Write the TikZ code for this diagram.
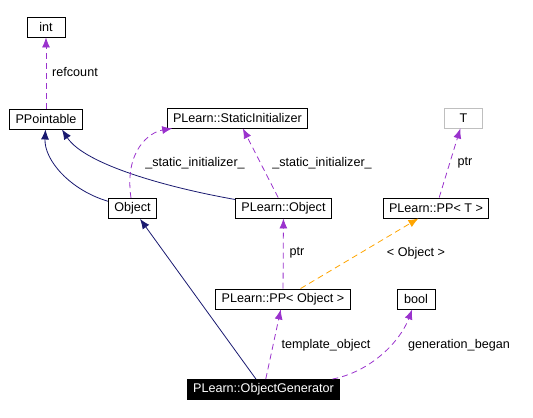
\documentclass[tikz,border=0pt]{standalone}
\usepackage{fontspec}
\setmainfont{Liberation Sans}
\usetikzlibrary{arrows.meta}

\definecolor{usecol}{HTML}{9A32CD}
\definecolor{basecol}{HTML}{191970}
\definecolor{tmplcol}{HTML}{FFA500}

\begin{document}
\begin{tikzpicture}[
        x=1bp, y=-1bp, % координаты в пикселях
        font=\fontsize{12.6bp}{15bp}\selectfont,
        cell/.style={draw, line width=0.9bp, minimum width=38bp, minimum height=20bp, inner xsep=6bp, inner ysep=0pt}, % Стиль узлов
        root/.style={cell, fill=black, text=white},
        ghost/.style={cell, draw=black!25},
        base/.style={draw=basecol, line width=0.8bp, -{Latex[length=10bp,width=8bp]}}, % наследование
        usage/.style={draw=usecol, line width=0.8bp, dash pattern=on 6bp off 4bp, -{Latex[length=10bp,width=8bp]}}, % поле класса
        tmpl/.style={draw=tmplcol, line width=0.8bp, dash pattern=on 6bp off 4bp, -{Latex[length=10bp,width=8bp]}}, % шаблон
        kant/.style={text=black, inner sep=0pt},
    ]
    \useasboundingbox (0,0) rectangle (533,417);

    \node[cell] (int) at (46,27) {int};
    \node[cell] (ppointable) at (46,119) {PPointable};
    \node[cell] (statinit) at (237.5,118) {PLearn::StaticInitializer};
    \node[ghost] (t) at (463.5,118) {T};
    \node[cell] (object) at (132.5,208.5) {Object};
    \node[cell] (plobject) at (283.5,208) {PLearn::Object};
    \node[cell] (ppt) at (436,208) {PLearn::PP< T >};
    \node[cell] (ppobject) at (283,299) {PLearn::PP< Object >};
    \node[cell] (bool) at (416,299) {bool};
    \node[root] (generator) at (263.5,389.5) {PLearn::ObjectGenerator};

    \draw[usage] (ppointable) -- (int) node[kant] at (75,72) {refcount};
    \draw[base] (object) .. controls (70,190) and (44,160) .. (ppointable);
    \draw[base] (plobject) .. controls (170,188) and (85,165) .. ([xshift=16bp]ppointable.south);
    \draw[usage] (object) .. controls (124,150) and (150,132) .. (statinit)
        node[kant] at (195,163) {\_static\_initializer\_};
    \draw[usage] (plobject) -- (statinit) node[kant] at (322,163) {\_static\_initializer\_};
    \draw[usage] (ppt) -- (t) node[kant] at (465,163) {ptr};
    \draw[usage] (ppobject) -- (plobject) node[kant] at (297,253) {ptr};
    \draw[tmpl] (ppobject) -- (ppt) node[kant] at (416,253) {< Object >};
    \draw[base] (generator) -- (object);
    \draw[usage] (generator) -- (ppobject) node[kant] at (326,345) {template\_object};
    \draw[usage] ([xshift=-8bp]generator.north east) .. controls (370,372) and (400,342) .. (bool)
        node[kant] at (459,345) {generation\_began};
\end{tikzpicture}
\end{document}
